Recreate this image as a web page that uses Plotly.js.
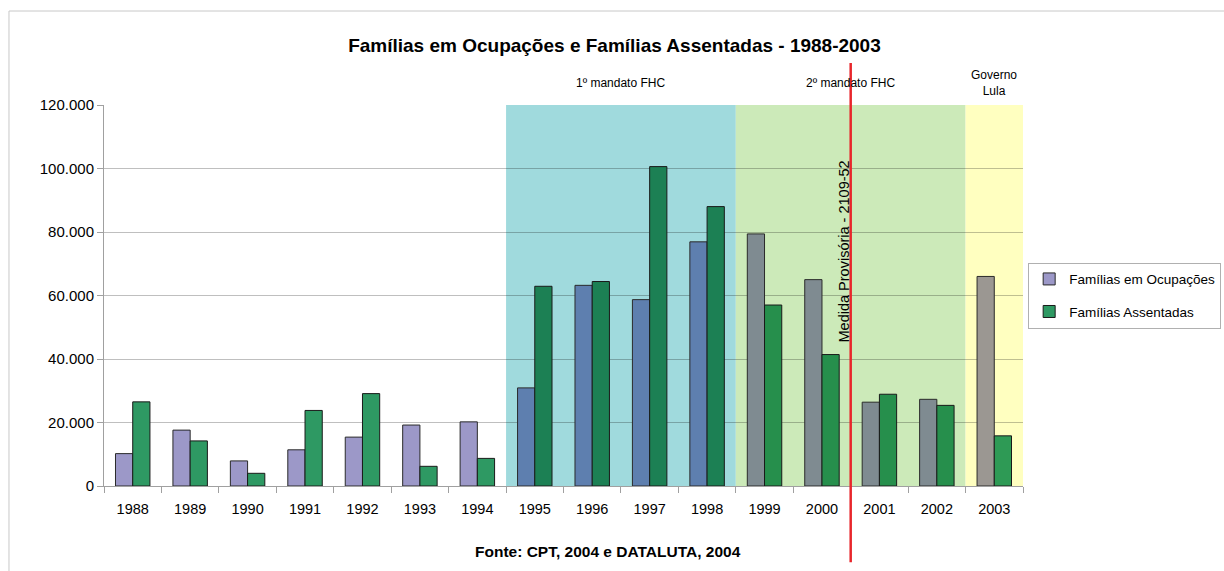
<!DOCTYPE html>
<html>
<head>
<meta charset="utf-8">
<script src="https://cdn.plot.ly/plotly-3.0.1.min.js"></script>
<style>html,body{margin:0;padding:0;background:#fff;}#chart{width:1224px;height:571px;}</style>
</head>
<body>
<div id="chart"></div>
<script>
var years = ['1988','1989','1990','1991','1992','1993','1994','1995','1996','1997','1998','1999','2000','2001','2002','2003'];
var ocupacoes = [10200, 17600, 7900, 11400, 15400, 19200, 20200, 30900, 63200, 58700, 76900, 79400, 65000, 26400, 27300, 66000];
var assentadas = [26500, 14200, 4000, 23800, 29100, 6200, 8700, 62900, 64400, 100600, 88000, 57000, 41400, 28900, 25400, 15800];

// period index per year: 0 = 1988-94, 1 = 1º FHC, 2 = 2º FHC, 3 = Lula
var periodo = [0,0,0,0,0,0,0,1,1,1,1,2,2,2,2,3];
var corOcup = ['#9C98C8', '#5E7FAF', '#7F8B91', '#9B9792'];
var corAss = ['#2E9963', '#1C8054', '#268F4C', '#2E9A55'];

var font = 'Liberation Sans, Arial, sans-serif';

var traces = [
  {type:'bar', name:'Famílias em Ocupações', legendgroup:'a', x:years, y:ocupacoes,
   marker:{color:periodo.map(function(p){return corOcup[p];}), line:{color:'#2a2a2a', width:1}},
   hoverinfo:'x+y'},
  {type:'bar', name:'Famílias Assentadas', legendgroup:'b', x:years, y:assentadas,
   marker:{color:periodo.map(function(p){return corAss[p];}), line:{color:'#1a1a1a', width:1}},
   hoverinfo:'x+y'}
];

var layout = {
  width:1224, height:571,
  margin:{l:104, r:201, t:105, b:85},
  paper_bgcolor:'#ffffff', plot_bgcolor:'rgba(0,0,0,0)',
  separators:',.',
  font:{family:font, size:13, color:'#000'},
  barmode:'group', bargap:0.4, bargroupgap:0,
  showlegend:true,
  title:{text:'<b>Famílias em Ocupações e Famílias Assentadas - 1988-2003</b>',
         font:{family:font, size:19, color:'#000'},
         x:0.502, xref:'container', y:0.921, yref:'container', xanchor:'center', yanchor:'middle'},
  legend:{xref:'container', yref:'container', x:0.84, xanchor:'left', y:0.540, yanchor:'top',
          bgcolor:'#ffffff', bordercolor:'#b0b0b0', borderwidth:1, traceorder:'grouped',
          font:{family:font, size:13.5, color:'#000'}, tracegroupgap:12, itemwidth:30},
  xaxis:{type:'category', tickson:'boundaries', ticks:'outside', ticklen:6, tickcolor:'#a0a0a0',
         showline:true, linecolor:'#a0a0a0', linewidth:1, showgrid:false, ticklabelstandoff:10,
         tickfont:{family:font, size:14.5, color:'#000'}, fixedrange:true},
  yaxis:{range:[0,120000], tick0:0, dtick:20000, tickformat:',d',
         ticks:'outside', ticklen:6, tickcolor:'#a0a0a0',
         showline:true, linecolor:'#a0a0a0', linewidth:1,
         showgrid:true, gridcolor:'rgba(0,0,0,0.25)', gridwidth:1, zeroline:false,
         tickfont:{family:font, size:15, color:'#000'}, fixedrange:true},
  shapes:[
    {type:'rect', xref:'x', yref:'paper', x0:6.5, x1:10.5, y0:0, y1:1, fillcolor:'#A0DADD', line:{width:0}, layer:'below'},
    {type:'rect', xref:'x', yref:'paper', x0:10.5, x1:14.5, y0:0, y1:1, fillcolor:'#CCEAB9', line:{width:0}, layer:'below'},
    {type:'rect', xref:'x', yref:'paper', x0:14.5, x1:15.5, y0:0, y1:1, fillcolor:'#FFFFC0', line:{width:0}, layer:'below'},
    {type:'line', xref:'x', yref:'paper', x0:12.5, x1:12.5, y0:-0.2, y1:1.11, line:{color:'#E8262B', width:2.5}, layer:'above'},
    {type:'rect', xref:'paper', yref:'paper', x0:-0.1034, x1:1.23, y0:-0.25, y1:1.2467, line:{color:'#c8c8c8', width:1}, fillcolor:'rgba(0,0,0,0)', layer:'below'}
  ],
  annotations:[
    {text:'1º mandato FHC', xref:'x', yref:'paper', x:8.5, y:1.057, showarrow:false, font:{family:font, size:12}, xanchor:'center', yanchor:'middle'},
    {text:'2º mandato FHC', xref:'x', yref:'paper', x:12.5, y:1.057, showarrow:false, font:{family:font, size:12}, xanchor:'center', yanchor:'middle'},
    {text:'Governo<br>Lula', xref:'x', yref:'paper', x:15, y:1.057, showarrow:false, font:{family:font, size:12}, xanchor:'center', yanchor:'middle'},
    {text:'Medida Provisória - 2109-52', xref:'x', yref:'paper', x:12.38, y:0.615, textangle:-90, showarrow:false, font:{family:font, size:14.5}, xanchor:'center', yanchor:'middle'},
    {text:'<b>Fonte: CPT, 2004 e DATALUTA, 2004</b>', xref:'paper', yref:'paper', x:0.548, y:-0.171, showarrow:false, font:{family:font, size:15.5}, xanchor:'center', yanchor:'middle'}
  ]
};

Plotly.newPlot('chart', traces, layout, {displayModeBar:false, staticPlot:true});
</script>
</body>
</html>
